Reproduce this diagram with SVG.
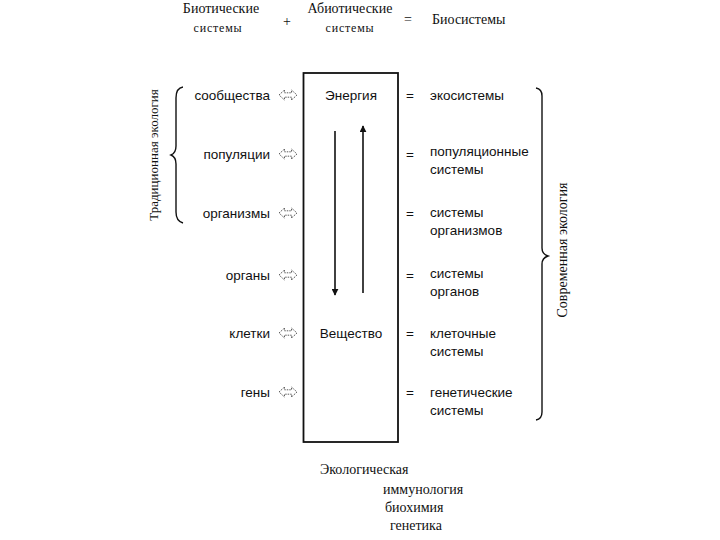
<svg xmlns="http://www.w3.org/2000/svg" width="720" height="540" viewBox="0 0 720 540">
<defs>
<style>
.s{font-family:"Liberation Sans",Arial,sans-serif;font-size:13.5px;fill:#111}
.t{font-family:"Liberation Serif","Times New Roman",serif;font-size:14px;fill:#111}
.r{text-anchor:end}
.m{text-anchor:middle}
.ln{stroke:#111;stroke-width:1.6;fill:none}
.br{stroke:#111;stroke-width:1.4;fill:none}
.da{fill:#fff;stroke:#333;stroke-width:0.8;stroke-dasharray:1.5 1}
</style>
<marker id="ah" viewBox="0 0 10 10" refX="9" refY="5" markerWidth="7" markerHeight="7" orient="auto-start-reverse" markerUnits="userSpaceOnUse">
<path d="M0,0 L10,5 L0,10 z" fill="#111"/>
</marker>
<path id="dbl" d="M0,0 L5.5,-5 L5.5,-2.2 L12.5,-2.2 L12.5,-5 L18,0 L12.5,5 L12.5,2.2 L5.5,2.2 L5.5,5 z" class="da"/>
</defs>
<rect width="720" height="540" fill="#fff"/>

<g id="header">
<text class="t m" x="221" y="13">Биотические</text>
<text class="t m" x="218" y="32" style="font-size:12px;letter-spacing:0.8px">системы</text>
<text class="t m" x="287" y="26">+</text>
<text class="t m" x="350" y="13">Абиотические</text>
<text class="t m" x="350" y="32" style="font-size:12px;letter-spacing:0.8px">системы</text>
<text class="t m" x="408" y="24">=</text>
<text class="t" x="432" y="24">Биосистемы</text>
</g>

<g id="box">
<rect x="303.5" y="73" width="94.5" height="369" fill="none" stroke="#111" stroke-width="1.8"/>
<text class="s m" x="351" y="100">Энергия</text>
<text class="s m" x="351" y="338">Вещество</text>
</g>

<g id="connectors">
<line class="ln" x1="335" y1="131" x2="335" y2="295" marker-end="url(#ah)"/>
<line class="ln" x1="363" y1="293" x2="363" y2="126" marker-end="url(#ah)"/>
<use href="#dbl" x="279" y="95"/>
<use href="#dbl" x="279" y="154"/>
<use href="#dbl" x="279" y="213"/>
<use href="#dbl" x="279" y="275"/>
<use href="#dbl" x="279" y="333"/>
<use href="#dbl" x="279" y="392"/>
</g>

<g id="left-levels">
<text class="s r" x="270" y="100">сообщества</text>
<text class="s r" x="270" y="159">популяции</text>
<text class="s r" x="270" y="218">организмы</text>
<text class="s r" x="270" y="280">органы</text>
<text class="s r" x="270" y="338">клетки</text>
<text class="s r" x="270" y="397">гены</text>
</g>

<g id="right-systems">
<text class="s" x="406" y="100">=</text>
<text class="s" x="430" y="100">экосистемы</text>
<text class="s" x="406" y="159">=</text>
<text class="s" x="430" y="156">популяционные</text>
<text class="s" x="430" y="174">системы</text>
<text class="s" x="406" y="218">=</text>
<text class="s" x="430" y="217">системы</text>
<text class="s" x="430" y="235">организмов</text>
<text class="s" x="406" y="280">=</text>
<text class="s" x="430" y="278">системы</text>
<text class="s" x="430" y="296">органов</text>
<text class="s" x="406" y="338">=</text>
<text class="s" x="430" y="338">клеточные</text>
<text class="s" x="430" y="356">системы</text>
<text class="s" x="406" y="397">=</text>
<text class="s" x="430" y="397">генетические</text>
<text class="s" x="430" y="415">системы</text>
</g>

<g id="left-brace">
<path class="br" d="M183,87 Q176,88 176,98 L176,146 Q176,153 171,155 Q176,157 176,164 L176,212 Q176,221 183,223"/>
<text class="t m" transform="translate(158,155) rotate(-90)" style="font-size:13px">Традиционная экология</text>
</g>

<g id="right-brace">
<path class="br" d="M536,88 Q542,89 542,96 L542,248 Q542,254 548,256 Q542,258 542,264 L542,412 Q542,419 536,420"/>
<text class="t m" transform="translate(567,250) rotate(-90)">Современная экология</text>
</g>

<g id="footer">
<text class="t" x="320" y="474">Экологическая</text>
<text class="t" x="383" y="494">иммунология</text>
<text class="t" x="385" y="512">биохимия</text>
<text class="t" x="390" y="530">генетика</text>
</g>
</svg>
